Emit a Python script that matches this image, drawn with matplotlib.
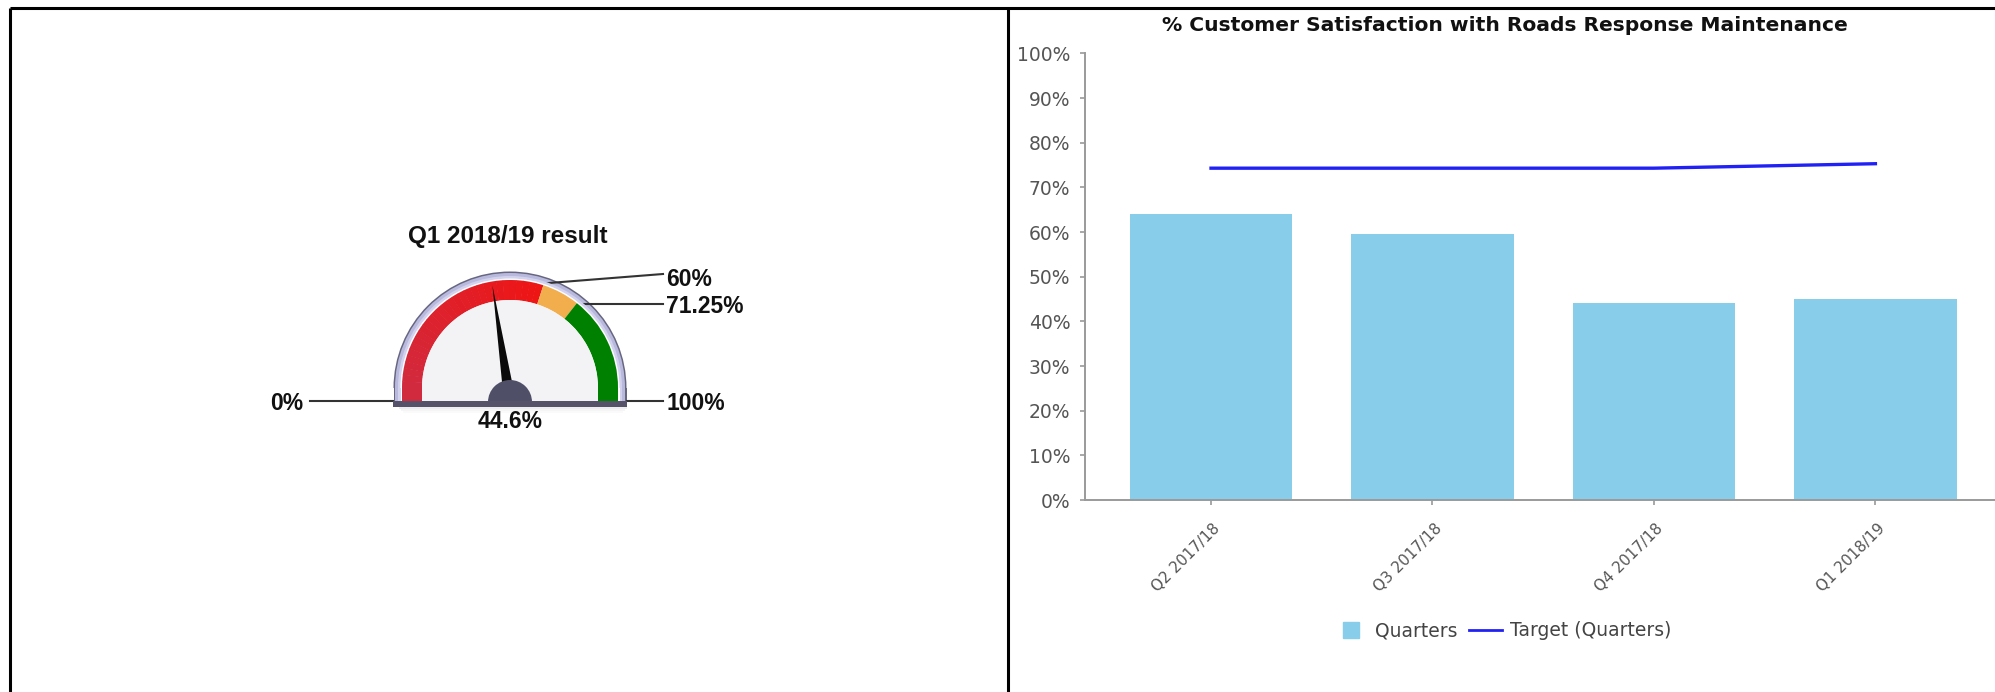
#!/usr/bin/env python3
"""
Roads response maintenance: quarterly satisfaction dashboard.

Left panel: dial gauge for the latest quarter with its RAG bands.
Right panel: satisfaction by quarter against the target line.
"""

import numpy as np
import matplotlib
matplotlib.use("Agg")
import matplotlib.pyplot as plt
from matplotlib.patches import Wedge, Rectangle, Polygon
from matplotlib.lines import Line2D
from matplotlib.transforms import ScaledTranslation

# Quarterly results (%)
quarters = ["Q2 2017/18", "Q3 2017/18", "Q4 2017/18", "Q1 2018/19"]
satisfaction = [64.0, 59.5, 44.0, 45.1]
target = [74.3, 74.3, 74.3, 75.3]

# Gauge for the latest quarter
gauge_title = "Q1 2018/19 result"
gauge_value = 44.6
band_edges = [0, 60, 71.25, 100]
band_labels = ["0%", "60%", "71.25%", "100%"]
band_colors = ["#e81c24", "#f2ad4c", "#008000"]

W, H = 1995, 692

fig = plt.figure(figsize=(W / 100, H / 100), dpi=100)
fig.patch.set_facecolor("white")

# ---------------------------------------------------------------
# Pixel-space overlay: panel frame + gauge
# ---------------------------------------------------------------
gax = fig.add_axes([0, 0, 1, 1], zorder=0)
gax.set_xlim(0, W)
gax.set_ylim(0, H)
gax.axis("off")


def fy(y):
    # screen-style y (from the top) to overlay coords
    return H - y


# panel frame
frame_kw = dict(color="black", lw=2.2, solid_capstyle="butt")
gax.plot([10, W], [fy(8), fy(8)], **frame_kw)
gax.plot([10, 10], [fy(8), 0], **frame_kw)
gax.plot([1008, 1008], [fy(8), 0], **frame_kw)

cx, cy = 510, 388          # dial arc centre
base_y = 402               # base plate line
r_in, r_out = 88, 108      # coloured band
r_bezel = 115


def ang(v):
    return 180.0 - 1.8 * v


def half_dial(r, color, z, lw=0, ec=None):
    gax.add_patch(Wedge((cx, fy(cy)), r, 0, 180, facecolor=color,
                        edgecolor=ec, lw=lw, zorder=z))
    gax.add_patch(Rectangle((cx - r, fy(base_y)), 2 * r, base_y - cy,
                            facecolor=color, edgecolor="none", zorder=z))


# soft drop shadow under the dial
for i, a in enumerate([0.12, 0.07, 0.035]):
    gax.add_patch(Rectangle((cx - r_bezel + 4 + i * 2, fy(base_y + 7 + i * 2)),
                            2 * r_bezel - 2 - i * 4, 2.5, facecolor="#777788",
                            alpha=a, edgecolor="none", zorder=1))

half_dial(r_bezel + 1.5, "#666680", 2)
half_dial(r_bezel, "#b9b9de", 3)
half_dial(r_bezel - 3, "#d2d2ee", 3.5)
half_dial(r_out + 1.5, "#ffffff", 4)
half_dial(r_out, "#f4f4f8", 4.5)

# RAG bands (red band shaded slightly darker towards 0%)
red_lo = np.array(matplotlib.colors.to_rgb("#d12a3e"))
red_hi = np.array(matplotlib.colors.to_rgb("#ee1515"))
steps = 30
for k in range(steps):
    v0 = band_edges[0] + (band_edges[1] - band_edges[0]) * k / steps
    v1 = band_edges[0] + (band_edges[1] - band_edges[0]) * (k + 1) / steps
    col = red_lo + (red_hi - red_lo) * k / (steps - 1)
    gax.add_patch(Wedge((cx, fy(cy)), r_out, ang(v1), ang(v0) + 0.3,
                        width=r_out - r_in, facecolor=col, edgecolor="none", zorder=5))
for lo, hi, col in zip(band_edges[1:-1], band_edges[2:], band_colors[1:]):
    gax.add_patch(Wedge((cx, fy(cy)), r_out, ang(hi), ang(lo), width=r_out - r_in,
                        facecolor=col, edgecolor="none", zorder=5))
# straight band ends down to the base
gax.add_patch(Rectangle((cx - r_out, fy(base_y)), r_out - r_in, base_y - cy,
                        facecolor=red_lo, edgecolor="none", zorder=5))
gax.add_patch(Rectangle((cx + r_in, fy(base_y)), r_out - r_in, base_y - cy,
                        facecolor=band_colors[-1], edgecolor="none", zorder=5))

# dial face
half_dial(r_in, "#f3f3f6", 6)

# needle
th = np.radians(ang(gauge_value))
tip = (cx + 104 * np.cos(th), fy(cy) + 104 * np.sin(th))
nx, ny = -np.sin(th), np.cos(th)
hw = 6
gax.add_patch(Polygon([(cx + hw * nx, fy(base_y) + hw * ny),
                       (cx - hw * nx, fy(base_y) - hw * ny), tip],
                      closed=True, facecolor="#0a0a0a", edgecolor="none", zorder=8))

# hub and base plate sit over the needle root
gax.add_patch(Wedge((cx, fy(base_y)), 22, 0, 180, facecolor="#4f5068",
                    edgecolor="none", zorder=9))
gax.add_patch(Rectangle((cx - r_bezel - 2, fy(base_y + 5)), 2 * r_bezel + 4, 6,
                        facecolor="#555269", edgecolor="none", zorder=9.5))

# leader lines and band labels
lead_kw = dict(color="#333333", lw=1.5, zorder=3)
lab_kw = dict(fontsize=16.5, fontweight="bold", color="#111111",
              family=["Liberation Sans", "DejaVu Sans"], zorder=10)
line_end = 663

gax.plot([310, cx - r_bezel - 2], [fy(401), fy(401)], **lead_kw)
gax.text(303, fy(404), band_labels[0], ha="right", va="center", **lab_kw)
gax.plot([cx + r_bezel + 2, line_end], [fy(401), fy(401)], **lead_kw)
gax.text(666, fy(404), band_labels[3], ha="left", va="center", **lab_kw)

t60 = np.radians(ang(band_edges[1]))
p60 = (cx + 110 * np.cos(t60), fy(cy) + 110 * np.sin(t60))
gax.plot([p60[0], line_end], [p60[1], fy(274)], **lead_kw)
gax.text(666, fy(280), band_labels[1], ha="left", va="center", **lab_kw)

t71 = np.radians(ang(band_edges[2]))
p71 = (cx + 107 * np.cos(t71), fy(cy) + 107 * np.sin(t71))
gax.plot([p71[0], line_end], [p71[1], p71[1]], **lead_kw)
gax.text(666, p71[1] - 3, band_labels[2], ha="left", va="center", **lab_kw)

gax.text(cx, fy(421), f"{gauge_value:.1f}%", ha="center", va="center", **lab_kw)
gax.text(508, fy(236), gauge_title, ha="center", va="center",
         **{**lab_kw, "fontsize": 17.5})

# ---------------------------------------------------------------
# Bar chart: satisfaction by quarter vs target
# ---------------------------------------------------------------
ax_left, ax_bottom, ax_top = 1085, 500, 53.4
ax = fig.add_axes([ax_left / W, (H - ax_bottom) / H, 1 - ax_left / W,
                   (ax_bottom - ax_top) / H], zorder=2)
ax.patch.set_alpha(0)

x = np.arange(len(quarters))
bar_color = "#88cde9"
ax.bar(x, satisfaction, width=0.735, color=bar_color, zorder=2)
ax.plot(x, target, color="#2121f5", lw=2.4, zorder=3)

ax.set_xlim(-0.569, 3.54)
ax.set_ylim(0, 100)
ax.set_yticks(np.arange(0, 101, 10))
ax.set_yticklabels([f"{v}%" for v in range(0, 101, 10)])
ax.set_xticks(x)
ax.set_xticklabels(quarters, rotation=45, ha="right", va="center",
                   rotation_mode="anchor")

for side in ("top", "right"):
    ax.spines[side].set_visible(False)
for side in ("left", "bottom"):
    ax.spines[side].set_color("#9a9a9a")
    ax.spines[side].set_linewidth(1.4)

ax.tick_params(axis="y", length=3.6, width=1.2, color="#9a9a9a", pad=7,
               labelsize=13.5, labelcolor="#555555")
ax.tick_params(axis="x", length=3.6, width=1.2, color="#9a9a9a", pad=15,
               labelsize=11, labelcolor="#555555")
shift = ScaledTranslation(5 / 72, 0, fig.dpi_scale_trans)
for lbl in ax.get_xticklabels():
    lbl.set_transform(lbl.get_transform() + shift)

# title, scaled to span the plot header
title = fig.text(1505 / W, (H - 25.5) / H,
                 "% Customer Satisfaction with Roads Response Maintenance",
                 ha="center", va="center", fontsize=13, fontweight="bold",
                 color="#111111")
fig.canvas.draw()
tw = title.get_window_extent().width
title.set_fontsize(13 * 680 / tw)

handles = [
    Line2D([], [], marker="s", markersize=12, linestyle="none",
           markerfacecolor=bar_color, markeredgecolor=bar_color),
    Line2D([], [], color="#2121f5", lw=2.0),
]
fig.legend(handles, ["Quarters", "Target (Quarters)"], loc="center",
           bbox_to_anchor=(1503 / W, (H - 631) / H), ncol=2, frameon=False,
           fontsize=13.5, labelcolor="#444444", handlelength=1.75,
           handletextpad=0.45, columnspacing=0.6)

fig.savefig("out.png", dpi=100, facecolor="white")
plt.close(fig)
